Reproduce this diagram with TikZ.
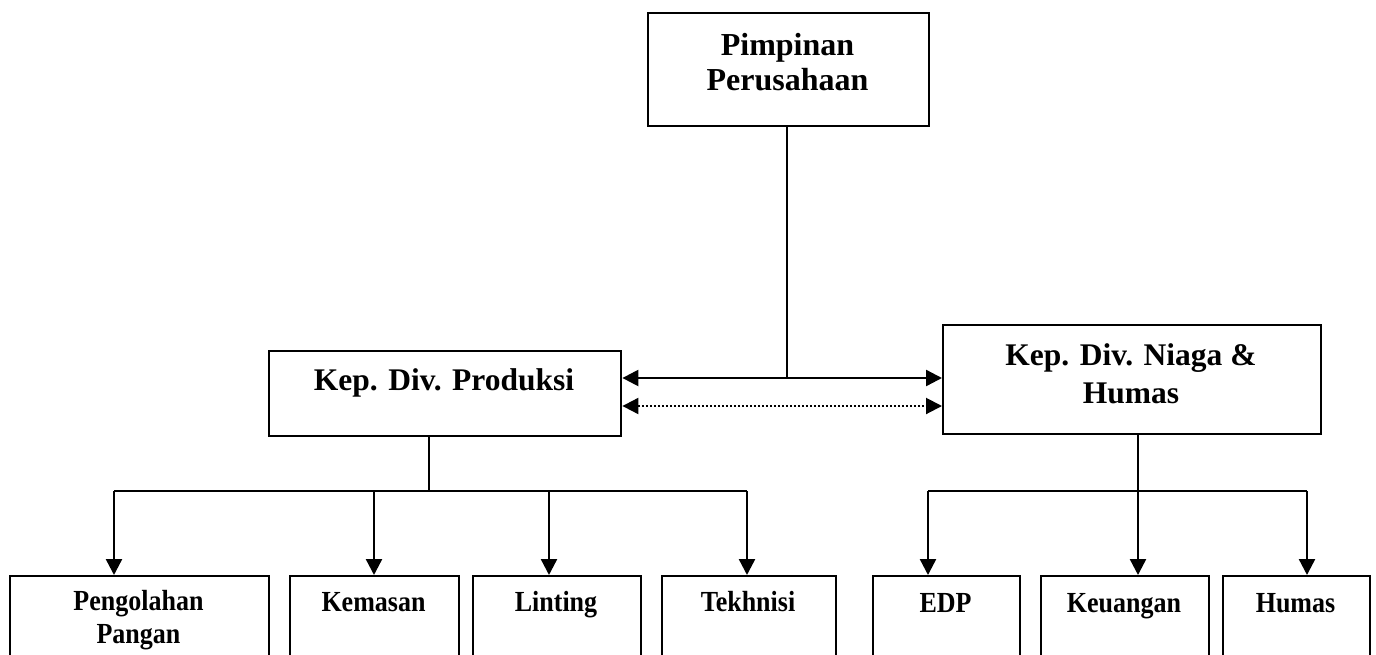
\documentclass[tikz,border=0pt]{standalone}
\usepackage{fontspec}
\setmainfont{Liberation Serif}
\usetikzlibrary{arrows.meta,calc}
\newcommand{\tallbot}[1]{\scalebox{1}[1.12]{#1}}
\begin{document}
\begin{tikzpicture}[x=1pt,y=-1pt,
  box/.style={draw=black,line width=2.4pt,rectangle,inner sep=0pt,anchor=north west},
  midtxt/.style={anchor=base,inner sep=0pt,font=\fontsize{31.5}{38}\selectfont\bfseries},
  toptxt/.style={anchor=base,inner sep=0pt,font=\fontsize{32}{38}\selectfont\bfseries},
  bottxt/.style={anchor=base,inner sep=0pt,font=\fontsize{26}{32}\selectfont\bfseries},
  conn/.style={line width=2.4pt},
  tip/.tip={Triangle[length=16pt,width=16pt]},
  arr/.style={line width=2.4pt,-tip},
  dbl/.style={line width=2.4pt,tip-tip},
  dotdbl/.style={line width=2pt,dash pattern=on 2pt off 2pt,tip-tip}
]
\useasboundingbox (0,0) rectangle (1376,654);
\fill[white] (0,0) rectangle (1376,654);
\clip (0,0) rectangle (1376,654);

% top box
\node[box,minimum width=281pt,minimum height=113pt] (top) at (647,12) {};
\node[toptxt] (topa) at (787.5,55) {Pimpinan};
\node[toptxt] (topb) at (787.5,90) {Perusahaan};

% middle boxes
\node[box,minimum width=352pt,minimum height=85pt] (kp) at (268,350) {};
\node[midtxt] (kpt) at (444,390) {Kep. Div. Produksi};
\node[box,minimum width=378pt,minimum height=109pt] (kn) at (942,324) {};
\node[midtxt] (kna) at (1131,365) {Kep. Div. Niaga \&};
\node[midtxt] (knb) at (1131,403) {Humas};

% bottom boxes
\node[box,minimum width=259pt,minimum height=100pt] (pp) at (9,575) {};
\node[bottxt] (ppa) at (138.5,610) {\tallbot{Pengolahan}};
\node[bottxt] (ppb) at (138.5,643) {\tallbot{Pangan}};
\node[box,minimum width=169pt,minimum height=100pt] (km) at (289,575) {};
\node[bottxt] (kmt) at (373.5,611) {\tallbot{Kemasan}};
\node[box,minimum width=168pt,minimum height=100pt] (li) at (472,575) {};
\node[bottxt] (lit) at (556,611) {\tallbot{Linting}};
\node[box,minimum width=174pt,minimum height=100pt] (te) at (661,575) {};
\node[bottxt] (tet) at (748,611) {\tallbot{Tekhnisi}};
\node[box,minimum width=147pt,minimum height=100pt] (ed) at (872,575) {};
\node[bottxt] (edt) at (945.5,612) {\tallbot{EDP}};
\node[box,minimum width=168pt,minimum height=100pt] (ke) at (1040,575) {};
\node[bottxt] (ket) at (1124,612) {\tallbot{Keuangan}};
\node[box,minimum width=147pt,minimum height=100pt] (hu) at (1222,575) {};
\node[bottxt] (hut) at (1295.5,612) {\tallbot{Humas}};

% connectors between top and middle
\coordinate (tj) at (787,378);
\draw[line width=1.8pt] (top.south -| tj) -- (tj);
\draw[dbl] (kp.east |- tj) -- (kn.west |- tj);
\coordinate (dj) at (787,406);
\draw[dotdbl] (kp.east |- dj) -- (kn.west |- dj);

% left tree
\coordinate (lj) at (429,491);
\coordinate (l1) at (114,491);
\coordinate (l2) at (374,491);
\coordinate (l3) at (549,491);
\coordinate (l4) at (747,491);
\draw[line width=1.2pt] (kp.south -| lj) -- (lj);
\draw[conn] (l1) -- (l4);
\draw[arr] (l1) -- (l1 |- pp.north);
\draw[arr] (l2) -- (l2 |- km.north);
\draw[arr] (l3) -- (l3 |- li.north);
\draw[arr] (l4) -- (l4 |- te.north);

% right tree
\coordinate (r1) at (928,491);
\coordinate (r2) at (1138,491);
\coordinate (r3) at (1307,491);
\draw[conn] (r1) -- (r3);
\draw[arr] (kn.south -| r2) -- (r2 |- ke.north);
\draw[arr] (r1) -- (r1 |- ed.north);
\draw[arr] (r3) -- (r3 |- hu.north);
\end{tikzpicture}
\end{document}
